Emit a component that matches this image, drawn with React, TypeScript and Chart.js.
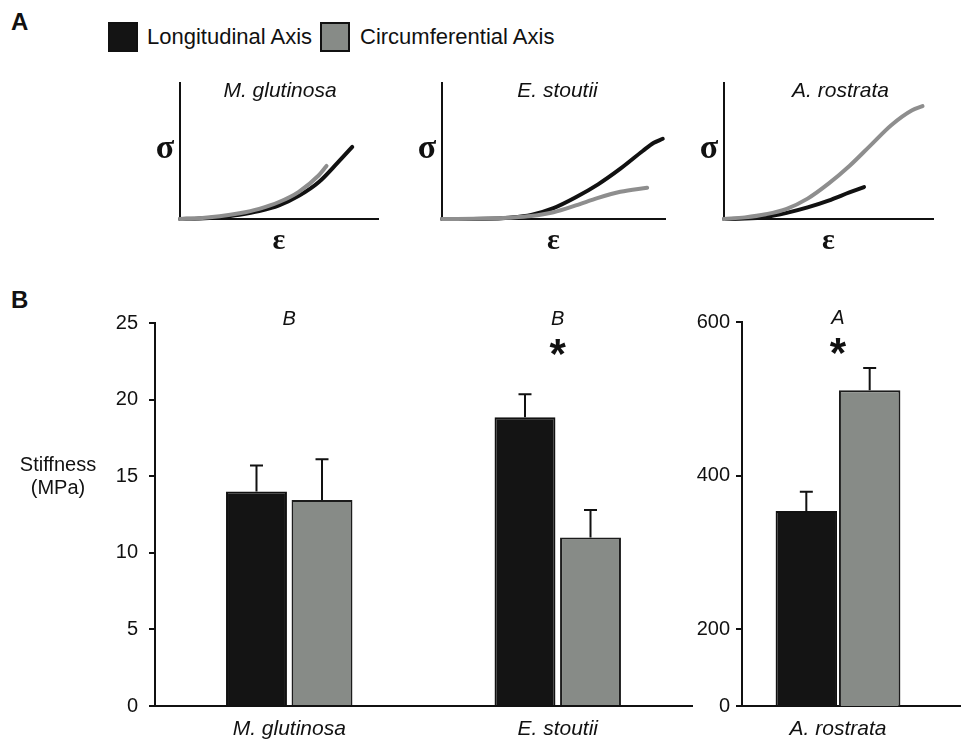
import React, { useEffect, useRef } from 'react';
import { Chart, registerables } from 'chart.js';

Chart.register(...registerables);

const SANS = '"Liberation Sans", Arial, Helvetica, sans-serif';
const SERIF = '"Liberation Serif", "DejaVu Serif", "Times New Roman", serif';
const INK = '#111111';
const BAR_BLACK = '#141414';
const BAR_GREY = '#878b87';
const LINE_GREY = '#8e8e8e';

// ---------- Panel B data ----------
const speciesLeft = ['M. glutinosa', 'E. stoutii'];
const longitudinalLeft = [14.0, 18.85];
const longitudinalLeftErr = [1.7, 1.5];
const circumferentialLeft = [13.45, 11.0];
const circumferentialLeftErr = [2.65, 1.8];
const lettersLeft = ['B', 'B'];
const starsLeft = [false, true];
const leftTickStep = 5;
const leftMin = 0;
const leftMax = 25;

const speciesRight = ['A. rostrata'];
const longitudinalRight = [354];
const longitudinalRightErr = [25];
const circumferentialRight = [511];
const circumferentialRightErr = [29];
const lettersRight = ['A'];
const starsRight = [true];
const rightBreakValue = 100; // broken axis: this value is labelled "0"
const rightTicks = [100, 200, 400, 600];
const rightMax = 600;

// ---------- Panel A data (normalised strain / stress) ----------
const mgStrainLong = [0, 0.1, 0.2, 0.3, 0.4, 0.5, 0.6, 0.7, 0.8, 0.87];
const mgStressLong = [0, 0.004, 0.015, 0.032, 0.058, 0.1, 0.17, 0.27, 0.42, 0.53];
const mgStrainCirc = [0, 0.1, 0.2, 0.3, 0.4, 0.5, 0.6, 0.7, 0.74];
const mgStressCirc = [0, 0.006, 0.02, 0.042, 0.075, 0.125, 0.2, 0.32, 0.39];

const esStrainLong = [0, 0.2, 0.3, 0.4, 0.5, 0.6, 0.7, 0.8, 0.9, 0.95, 0.99];
const esStressLong = [0, 0.002, 0.01, 0.03, 0.08, 0.16, 0.255, 0.37, 0.5, 0.56, 0.59];
const esStrainCirc = [0, 0.2, 0.3, 0.4, 0.5, 0.6, 0.7, 0.8, 0.92];
const esStressCirc = [0, 0.003, 0.01, 0.022, 0.05, 0.1, 0.155, 0.2, 0.23];

const arStrainLong = [0, 0.1, 0.2, 0.3, 0.4, 0.5, 0.6, 0.67];
const arStressLong = [0, 0.003, 0.015, 0.045, 0.085, 0.135, 0.195, 0.235];
const arStrainCirc = [0, 0.1, 0.2, 0.3, 0.4, 0.5, 0.6, 0.7, 0.8, 0.9, 0.95];
const arStressCirc = [0, 0.012, 0.035, 0.075, 0.15, 0.26, 0.39, 0.54, 0.69, 0.8, 0.83];

const curveTitles = ['M. glutinosa', 'E. stoutii', 'A. rostrata'];
const legendLabels = ['Longitudinal Axis', 'Circumferential Axis'];

// ---------- plugins ----------
const errorBarPlugin = {
  id: 'errorBars',
  afterDatasetsDraw(chart: any) {
    const ctx = chart.ctx;
    const yScale = chart.scales.y;
    chart.data.datasets.forEach((ds: any, di: number) => {
      const errs: number[] | undefined = ds.errors;
      if (!errs) return;
      const meta = chart.getDatasetMeta(di);
      meta.data.forEach((bar: any, i: number) => {
        const v = ds.data[i] as number;
        const y0 = yScale.getPixelForValue(v);
        const y1 = yScale.getPixelForValue(v + errs[i]);
        ctx.save();
        ctx.strokeStyle = INK;
        ctx.lineWidth = 2;
        ctx.beginPath();
        ctx.moveTo(bar.x, y0);
        ctx.lineTo(bar.x, y1);
        ctx.moveTo(bar.x - 6.5, y1);
        ctx.lineTo(bar.x + 6.5, y1);
        ctx.stroke();
        ctx.restore();
      });
    });
  },
};

const annotationPlugin = {
  id: 'sigAnnotations',
  afterDraw(chart: any, _args: any, opts: any) {
    const ctx = chart.ctx;
    const xs = chart.scales.x;
    const top = chart.chartArea.top;
    const letters: string[] = opts.letters || [];
    const stars: boolean[] = opts.stars || [];
    ctx.save();
    ctx.fillStyle = INK;
    ctx.textAlign = 'center';
    ctx.textBaseline = 'middle';
    letters.forEach((l, i) => {
      const x = xs.getPixelForValue(i);
      ctx.font = `italic 20px ${SANS}`;
      ctx.fillText(l, x, top - 4);
      if (stars[i]) {
        ctx.font = `bold 42px ${SANS}`;
        ctx.fillText('*', x, top + 33);
      }
    });
    if (opts.extendAxis) {
      ctx.strokeStyle = INK;
      ctx.lineWidth = 2;
      ctx.beginPath();
      ctx.moveTo(chart.chartArea.right, chart.chartArea.bottom);
      ctx.lineTo(chart.width, chart.chartArea.bottom);
      ctx.stroke();
    }
    ctx.restore();
  },
};

function barConfig(
  labels: string[],
  longVals: number[],
  longErr: number[],
  circVals: number[],
  circErr: number[],
  yOpts: any,
  padding: any,
  yWidth: number,
  tickPadding: number,
  catPct: number,
  barPct: number,
  ann: any
): any {
  return {
    type: 'bar',
    data: {
      labels,
      datasets: [
        {
          label: legendLabels[0],
          data: longVals,
          errors: longErr,
          backgroundColor: BAR_BLACK,
          borderColor: INK,
          borderWidth: 2,
          categoryPercentage: catPct,
          barPercentage: barPct,
        },
        {
          label: legendLabels[1],
          data: circVals,
          errors: circErr,
          backgroundColor: BAR_GREY,
          borderColor: '#1c1c1c',
          borderWidth: 2,
          categoryPercentage: catPct,
          barPercentage: barPct,
        },
      ],
    },
    options: {
      animation: false,
      responsive: false,
      events: [],
      layout: { padding },
      plugins: {
        legend: { display: false },
        tooltip: { enabled: false },
        title: { display: false },
        sigAnnotations: ann,
      },
      scales: {
        x: {
          grid: { display: false },
          border: { display: true, color: INK, width: 2 },
          ticks: { color: INK, font: { family: SANS, size: 21, style: 'italic' }, padding: 3 },
          afterFit: (s: any) => {
            s.height = 36;
          },
        },
        y: {
          ...yOpts,
          grid: { display: true, drawOnChartArea: false, drawTicks: true, tickLength: 6, color: INK, lineWidth: 2 },
          border: { display: true, color: INK, width: 2 },
          afterFit: (s: any) => {
            s.width = yWidth;
          },
          ticks: {
            ...(yOpts.ticks || {}),
            color: INK,
            padding: tickPadding,
            font: { family: SANS, size: 20 },
          },
        },
      },
    },
    plugins: [errorBarPlugin, annotationPlugin],
  };
}

function curveConfig(sl: number[], stl: number[], sc: number[], stc: number[]): any {
  const axis = (isX: boolean) => ({
    type: 'linear',
    min: 0,
    max: 1,
    ticks: { display: false },
    grid: { display: false },
    border: { display: true, color: INK, width: 2 },
    afterFit: (s: any) => {
      if (isX) s.height = 0;
      else s.width = 0;
    },
  });
  return {
    type: 'line',
    data: {
      datasets: [
        {
          label: legendLabels[1],
          data: sc.map((x, i) => ({ x, y: stc[i] })),
          borderColor: LINE_GREY,
          borderWidth: 4,
          pointRadius: 0,
          cubicInterpolationMode: 'monotone',
          clip: false,
          borderCapStyle: 'round',
        },
        {
          label: legendLabels[0],
          data: sl.map((x, i) => ({ x, y: stl[i] })),
          borderColor: INK,
          borderWidth: 4,
          pointRadius: 0,
          cubicInterpolationMode: 'monotone',
          clip: false,
          borderCapStyle: 'round',
        },
      ],
    },
    options: {
      animation: false,
      responsive: false,
      events: [],
      layout: { padding: 10 },
      plugins: { legend: { display: false }, tooltip: { enabled: false } },
      scales: { x: axis(true), y: axis(false) },
    },
  };
}

const Txt = (p: { x: number; y: number; children: any; style?: any }) => (
  <div
    style={{
      position: 'absolute',
      left: p.x,
      top: p.y,
      transform: 'translate(-50%, -50%)',
      whiteSpace: 'nowrap',
      lineHeight: 1,
      ...p.style,
    }}
  >
    {p.children}
  </div>
);

// small-chart axis geometry: [axisLeft, axisRight]
const curveBoxes = [
  [180, 378],
  [442, 665],
  [724, 933],
];
const curveTop = 83;
const curveBottom = 219;

export default function App() {
  const c1 = useRef<HTMLCanvasElement>(null);
  const c2 = useRef<HTMLCanvasElement>(null);
  const c3 = useRef<HTMLCanvasElement>(null);
  const bl = useRef<HTMLCanvasElement>(null);
  const br = useRef<HTMLCanvasElement>(null);

  useEffect(() => {
    const charts: Chart[] = [];
    charts.push(new Chart(c1.current!, curveConfig(mgStrainLong, mgStressLong, mgStrainCirc, mgStressCirc)));
    charts.push(new Chart(c2.current!, curveConfig(esStrainLong, esStressLong, esStrainCirc, esStressCirc)));
    charts.push(new Chart(c3.current!, curveConfig(arStrainLong, arStressLong, arStrainCirc, arStressCirc)));

    charts.push(
      new Chart(
        bl.current!,
        barConfig(
          speciesLeft,
          longitudinalLeft,
          longitudinalLeftErr,
          circumferentialLeft,
          circumferentialLeftErr,
          { min: leftMin, max: leftMax, ticks: { stepSize: leftTickStep } },
          { top: 33, right: 8, left: 0, bottom: 0 },
          155,
          11,
          0.488,
          0.93,
          { letters: lettersLeft, stars: starsLeft }
        )
      )
    );
    charts.push(
      new Chart(
        br.current!,
        barConfig(
          speciesRight,
          longitudinalRight,
          longitudinalRightErr,
          circumferentialRight,
          circumferentialRightErr,
          {
            min: rightBreakValue,
            max: rightMax,
            afterBuildTicks: (s: any) => {
              s.ticks = rightTicks.map((v) => ({ value: v }));
            },
            ticks: {
              callback: (v: any) => (Number(v) === rightBreakValue ? '0' : String(v)),
            },
          },
          { top: 32, right: 27, left: 0, bottom: 0 },
          82,
          6,
          0.66,
          0.97,
          { letters: lettersRight, stars: starsRight, extendAxis: true }
        )
      )
    );
    return () => charts.forEach((c) => c.destroy());
  }, []);

  const refs = [c1, c2, c3];

  return (
    <div
      style={{
        position: 'absolute',
        left: 0,
        top: 0,
        width: 961,
        height: 742,
        background: '#fff',
        fontFamily: SANS,
        color: INK,
        overflow: 'hidden',
      }}
    >
      {/* panel letters */}
      <div style={{ position: 'absolute', left: 11, top: 10, fontWeight: 'bold', fontSize: 24, lineHeight: 1 }}>A</div>
      <div style={{ position: 'absolute', left: 11, top: 288, fontWeight: 'bold', fontSize: 24, lineHeight: 1 }}>B</div>

      {/* legend */}
      <div style={{ position: 'absolute', left: 108, top: 22, width: 26, height: 26, background: BAR_BLACK, border: `2px solid ${INK}` }} />
      <div style={{ position: 'absolute', left: 147, top: 26, fontSize: 22, lineHeight: 1 }}>{legendLabels[0]}</div>
      <div style={{ position: 'absolute', left: 320, top: 22, width: 26, height: 26, background: BAR_GREY, border: `2px solid ${INK}` }} />
      <div style={{ position: 'absolute', left: 360, top: 26, fontSize: 22, lineHeight: 1 }}>{legendLabels[1]}</div>

      {/* panel A small charts */}
      {curveBoxes.map(([l, r], i) => (
        <canvas
          key={i}
          ref={refs[i]}
          width={r - l + 20}
          height={curveBottom - curveTop + 20}
          style={{ position: 'absolute', left: l - 10, top: curveTop - 10 }}
        />
      ))}
      {curveBoxes.map(([l, r], i) => (
        <React.Fragment key={'t' + i}>
          <Txt x={(l + r) / 2 + [1, 4, 12][i]} y={89} style={{ fontStyle: 'italic', fontSize: 21 }}>
            {curveTitles[i]}
          </Txt>
          <Txt x={l - 15} y={147} style={{ fontFamily: SERIF, fontSize: 34, fontWeight: 'bold' }}>
            σ
          </Txt>
          <Txt x={(l + r) / 2} y={239} style={{ fontFamily: SERIF, fontSize: 30, fontWeight: 'bold' }}>
            ε
          </Txt>
        </React.Fragment>
      ))}

      {/* panel B */}
      <canvas ref={bl} width={700} height={452} style={{ position: 'absolute', left: 0, top: 290 }} />
      <canvas ref={br} width={301} height={452} style={{ position: 'absolute', left: 660, top: 290 }} />
      <div
        style={{
          position: 'absolute',
          left: 58,
          top: 476,
          transform: 'translate(-50%, -50%)',
          textAlign: 'center',
          fontSize: 20,
          lineHeight: '23px',
        }}
      >
        Stiffness
        <br />
        (MPa)
      </div>
    </div>
  );
}
